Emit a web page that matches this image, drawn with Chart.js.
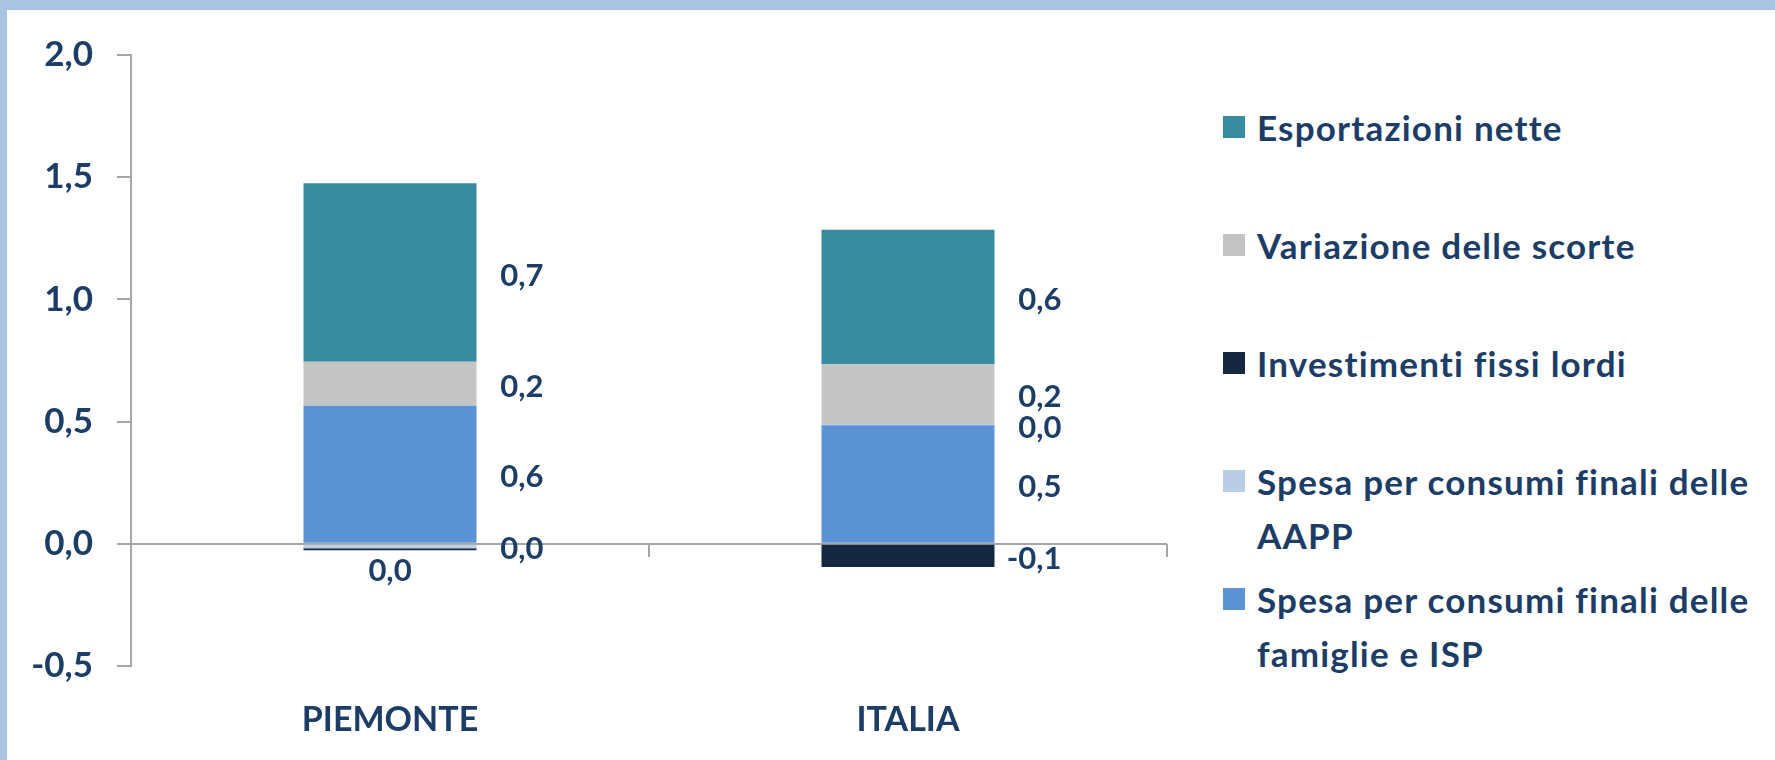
<!DOCTYPE html>
<html lang="it">
<head>
  <meta charset="UTF-8">
  <title>Contributi alla crescita</title>
  <style>
    html, body {
      margin: 0;
      padding: 0;
    }
    body {
      width: 1775px;
      height: 760px;
      background: #a9c5e1;
      position: relative;
      overflow: hidden;
      font-family: Lato, sans-serif;
    }
    #foglio {
      position: absolute;
      left: 7px;
      top: 10px;
      width: 1768px;
      height: 750px;
      background: #fff;
      overflow: hidden;
    }
    #box {
      position: absolute;
      left: 0;
      top: 0;
      width: 1200px;
      height: 750px;
    }
    .voce {
      position: absolute;
      left: 1216px;
      width: 556px;
      font-weight: bold;
      font-size: 35px;
      letter-spacing: 1.2px;
      line-height: 54px;
      color: #1c3d66;
      padding-left: 34px;
      box-sizing: border-box;
    }
    .voce span {
      position: absolute;
      left: 0;
      top: 16px;
      width: 22px;
      height: 22px;
    }
  </style>
</head>
<body>
  <div id="foglio">
    <div id="box"><canvas id="grafico"></canvas></div>
    <div id="legenda"></div>
  </div>

<script src="https://cdn.jsdelivr.net/npm/chart.js"></script>

<script>
  // dati
  var categorie = ['PIEMONTE', 'ITALIA'];
  var famiglie = [0.565, 0.485];
  var aapp = [-0.018, 0.005];
  var investimenti = [-0.008, -0.095];
  var scorte = [0.18, 0.245];
  var esportazioni = [0.73, 0.55];
  var yTicks = [-0.5, 0, 0.5, 1, 1.5, 2];

  var nomi = [
    'Spesa per consumi finali delle famiglie e ISP',
    'Spesa per consumi finali delle AAPP',
    'Investimenti fissi lordi',
    'Variazione delle scorte',
    'Esportazioni nette'
  ];
  var colori = ['#5b93d5', '#b9cde5', '#16283f', '#c4c4c4', '#388c9f'];
  var serie = [famiglie, aapp, investimenti, scorte, esportazioni];
  // dove mettere l'etichetta (solo investimenti Piemonte sta sotto)
  var posEtichette = [
    ['destra', 'destra'],
    ['destra', 'destra'],
    ['sotto', 'destra'],
    ['destra', 'destra'],
    ['destra', 'destra']
  ];

  var blu = '#1c3d66';
  var grigio = '#a6a6a6';

  function formatta(v) {
    var r = Math.round(v * 10) / 10;
    if (r === 0) r = 0;
    return r.toFixed(1).replace('.', ',');
  }

  var datasets = [];
  for (var i = 0; i < serie.length; i++) {
    datasets.push({
      label: nomi[i],
      data: serie[i],
      backgroundColor: colori[i],
      borderWidth: 0,
      categoryPercentage: 1,
      barPercentage: 0.334,
      xAxisID: 'x'
    });
  }

  var etichette = {
    id: 'etichette',
    afterDatasetsDraw: function(chart) {
      var ctx = chart.ctx;
      ctx.save();
      ctx.font = 'bold 31px Lato';
      ctx.fillStyle = blu;
      chart.data.datasets.forEach(function(ds, i) {
        var meta = chart.getDatasetMeta(i);
        meta.data.forEach(function(bar, j) {
          var p = bar.getProps(['x', 'y', 'base', 'width'], true);
          var t = formatta(ds.data[j]);
          if (posEtichette[i][j] === 'sotto') {
            ctx.textAlign = 'center';
            ctx.textBaseline = 'middle';
            ctx.fillText(t, p.x, Math.max(p.y, p.base) + 21);
          } else {
            ctx.textAlign = 'right';
            ctx.textBaseline = 'middle';
            ctx.fillText(t, p.x + p.width / 2 + 67, (p.y + p.base) / 2 + 3);
          }
        });
      });
      ctx.restore();
    }
  };

  var chart = new Chart(document.getElementById('grafico'), {
    type: 'bar',
    data: {
      labels: categorie,
      datasets: datasets
    },
    plugins: [etichette],
    options: {
      responsive: true,
      maintainAspectRatio: false,
      animation: false,
      layout: {
        padding: { top: 41, right: 40, bottom: 0, left: 0 }
      },
      plugins: {
        legend: { display: false },
        tooltip: { enabled: false }
      },
      scales: {
        x: {
          stacked: true,
          offset: true,
          grid: { display: false, drawTicks: false },
          border: { display: false },
          ticks: {
            color: blu,
            font: { family: 'Lato', weight: 'bold', size: 34 },
            padding: 34
          },
          afterFit: function(scale) { scale.height = 94; }
        },
        xz: {
          type: 'category',
          labels: categorie,
          position: { y: 0 },
          offset: true,
          border: { display: false },
          grid: {
            offset: true,
            drawOnChartArea: false,
            tickLength: 13,
            tickColor: grigio,
            lineWidth: 2
          },
          ticks: { display: false }
        },
        y: {
          stacked: true,
          min: -0.5,
          max: 2,
          afterBuildTicks: function(scale) {
            scale.ticks = yTicks.map(function(v) { return { value: v }; });
          },
          border: { display: true, color: grigio, width: 2 },
          grid: {
            color: function(c) { return c.tick && c.tick.value === 0 ? grigio : 'rgba(0,0,0,0)'; },
            tickColor: grigio,
            tickLength: 14,
            lineWidth: 2
          },
          ticks: {
            color: blu,
            padding: 24,
            font: { family: 'Lato', weight: 'bold', size: 35 },
            callback: function(v) { return formatta(v); }
          },
          afterFit: function(scale) { scale.width = 124; }
        }
      }
    }
  });

  // legenda a destra, in ordine inverso come nell'originale
  var legenda = document.getElementById('legenda');
  for (var k = 0; k < nomi.length; k++) {
    var idx = nomi.length - 1 - k;
    var d = document.createElement('div');
    d.className = 'voce';
    d.style.top = (117 + 118 * k - 27) + 'px';
    var q = document.createElement('span');
    q.style.background = colori[idx];
    d.appendChild(q);
    d.appendChild(document.createTextNode(nomi[idx]));
    legenda.appendChild(d);
  }
</script>
</body>
</html>
